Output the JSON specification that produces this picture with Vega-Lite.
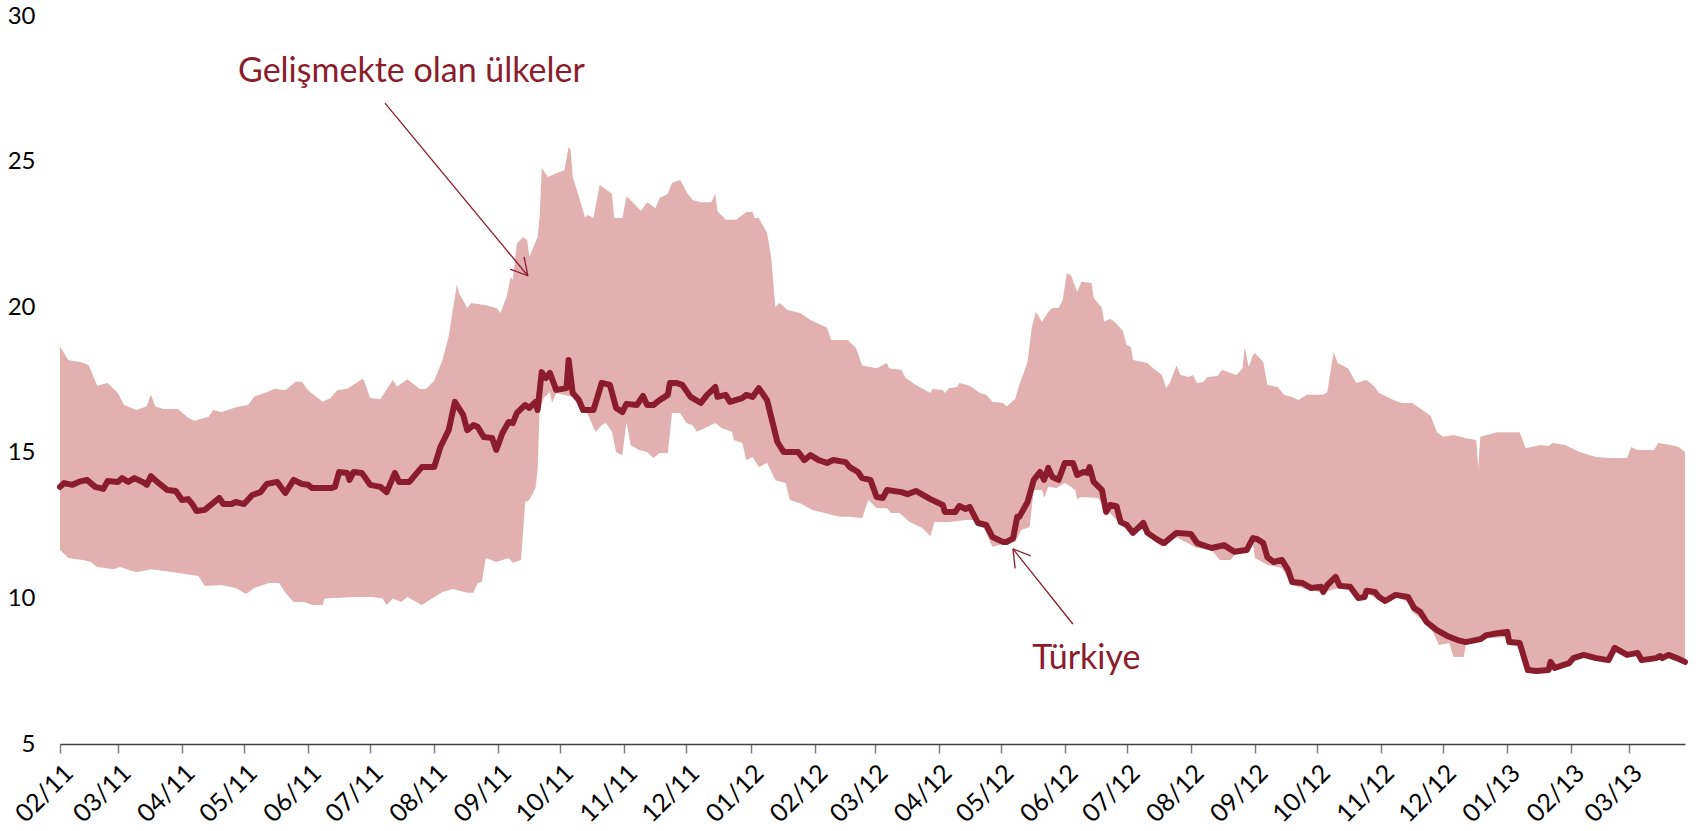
{
  "$schema": "https://vega.github.io/schema/vega-lite/v6.json",
  "autosize": "none",
  "width": 1625,
  "height": 728,
  "padding": {"left": 60, "top": 16, "right": 15, "bottom": 87},
  "background": "white",
  "config": {"view": {"stroke": null}, "font": "Lato"},
  "datasets": {
    "hi": [
      {"d":"2011-02-01","v":18.64},{"d":"2011-02-05","v":18.19},{"d":"2011-02-12","v":18.1},{"d":"2011-02-15","v":18.0},{"d":"2011-02-19","v":17.3},{"d":"2011-02-24","v":17.4},
      {"d":"2011-03-01","v":17.05},{"d":"2011-03-04","v":16.64},{"d":"2011-03-10","v":16.47},{"d":"2011-03-15","v":16.6},{"d":"2011-03-17","v":17.0},{"d":"2011-03-19","v":16.6},{"d":"2011-03-23","v":16.5},{"d":"2011-03-30","v":16.5},
      {"d":"2011-04-04","v":16.2},{"d":"2011-04-07","v":16.1},{"d":"2011-04-14","v":16.24},{"d":"2011-04-16","v":16.47},{"d":"2011-04-20","v":16.4},{"d":"2011-04-28","v":16.58},
      {"d":"2011-05-03","v":16.64},{"d":"2011-05-06","v":16.93},{"d":"2011-05-11","v":17.05},{"d":"2011-05-16","v":17.2},{"d":"2011-05-21","v":17.15},{"d":"2011-05-26","v":17.44},{"d":"2011-05-29","v":17.44},
      {"d":"2011-06-01","v":17.15},{"d":"2011-06-08","v":16.75},{"d":"2011-06-12","v":16.88},{"d":"2011-06-15","v":17.15},{"d":"2011-06-20","v":17.2},{"d":"2011-06-27","v":17.53},{"d":"2011-06-28","v":17.5},
      {"d":"2011-07-01","v":16.88},{"d":"2011-07-06","v":16.85},{"d":"2011-07-12","v":17.5},{"d":"2011-07-14","v":17.27},{"d":"2011-07-19","v":17.53},{"d":"2011-07-25","v":17.19},{"d":"2011-07-28","v":17.19},
      {"d":"2011-08-01","v":17.47},{"d":"2011-08-05","v":18.19},{"d":"2011-08-08","v":19.0},{"d":"2011-08-10","v":19.9},{"d":"2011-08-12","v":20.8},{"d":"2011-08-13","v":20.49},{"d":"2011-08-17","v":19.97},{"d":"2011-08-19","v":20.14},{"d":"2011-08-26","v":20.07},{"d":"2011-08-31","v":19.97},
      {"d":"2011-09-02","v":19.8},{"d":"2011-09-05","v":20.35},{"d":"2011-09-07","v":21.04},{"d":"2011-09-08","v":20.93},{"d":"2011-09-10","v":22.2},{"d":"2011-09-13","v":22.41},{"d":"2011-09-15","v":22.3},{"d":"2011-09-16","v":21.72},{"d":"2011-09-20","v":22.41},{"d":"2011-09-21","v":23.1},{"d":"2011-09-22","v":24.78},{"d":"2011-09-25","v":24.47},{"d":"2011-09-29","v":24.6},
      {"d":"2011-10-03","v":24.7},{"d":"2011-10-05","v":25.5},{"d":"2011-10-06","v":25.4},{"d":"2011-10-07","v":24.47},{"d":"2011-10-10","v":23.8},{"d":"2011-10-13","v":23.06},{"d":"2011-10-14","v":23.17},{"d":"2011-10-17","v":23.06},{"d":"2011-10-19","v":23.8},{"d":"2011-10-20","v":24.2},{"d":"2011-10-26","v":23.9},{"d":"2011-10-27","v":23.06},{"d":"2011-10-31","v":23.06},
      {"d":"2011-11-02","v":23.8},{"d":"2011-11-05","v":23.6},{"d":"2011-11-09","v":23.3},{"d":"2011-11-12","v":23.6},{"d":"2011-11-16","v":23.4},{"d":"2011-11-18","v":23.75},{"d":"2011-11-22","v":23.9},{"d":"2011-11-24","v":24.27},{"d":"2011-11-28","v":24.37},
      {"d":"2011-12-01","v":23.96},{"d":"2011-12-04","v":23.68},{"d":"2011-12-08","v":23.6},{"d":"2011-12-13","v":23.6},{"d":"2011-12-15","v":23.9},{"d":"2011-12-16","v":23.3},{"d":"2011-12-20","v":23.0},{"d":"2011-12-25","v":23.0},{"d":"2011-12-30","v":23.27},
      {"d":"2012-01-02","v":23.27},{"d":"2012-01-03","v":23.06},{"d":"2012-01-05","v":23.06},{"d":"2012-01-09","v":22.55},{"d":"2012-01-11","v":21.72},{"d":"2012-01-13","v":20.0},{"d":"2012-01-15","v":20.14},{"d":"2012-01-19","v":19.9},{"d":"2012-01-25","v":19.8},{"d":"2012-01-30","v":19.56},
      {"d":"2012-02-04","v":19.4},{"d":"2012-02-07","v":19.3},{"d":"2012-02-09","v":18.87},{"d":"2012-02-17","v":18.87},{"d":"2012-02-21","v":18.6},{"d":"2012-02-24","v":18.0},
      {"d":"2012-03-02","v":17.9},{"d":"2012-03-07","v":18.08},{"d":"2012-03-08","v":17.9},{"d":"2012-03-14","v":17.84},{"d":"2012-03-16","v":17.57},{"d":"2012-03-21","v":17.33},{"d":"2012-03-28","v":17.05},{"d":"2012-03-29","v":17.19},
      {"d":"2012-04-03","v":17.16},{"d":"2012-04-04","v":17.05},{"d":"2012-04-06","v":17.22},{"d":"2012-04-10","v":17.26},{"d":"2012-04-11","v":17.4},{"d":"2012-04-16","v":17.3},{"d":"2012-04-21","v":17.05},{"d":"2012-04-24","v":16.99},{"d":"2012-04-27","v":16.75},
      {"d":"2012-05-02","v":16.71},{"d":"2012-05-04","v":16.6},{"d":"2012-05-08","v":16.85},{"d":"2012-05-10","v":17.33},{"d":"2012-05-14","v":18.12},{"d":"2012-05-16","v":19.29},{"d":"2012-05-18","v":19.84},{"d":"2012-05-21","v":19.5},{"d":"2012-05-24","v":19.84},{"d":"2012-05-26","v":19.97},{"d":"2012-05-29","v":19.97},{"d":"2012-05-31","v":20.25},
      {"d":"2012-06-02","v":21.17},{"d":"2012-06-04","v":21.1},{"d":"2012-06-07","v":20.52},{"d":"2012-06-09","v":20.87},{"d":"2012-06-14","v":20.83},{"d":"2012-06-15","v":20.32},{"d":"2012-06-19","v":19.97},{"d":"2012-06-20","v":19.5},{"d":"2012-06-23","v":19.6},{"d":"2012-06-25","v":19.5},{"d":"2012-06-29","v":19.2},
      {"d":"2012-07-01","v":18.7},{"d":"2012-07-03","v":18.63},{"d":"2012-07-04","v":18.19},{"d":"2012-07-11","v":18.08},{"d":"2012-07-13","v":17.95},{"d":"2012-07-18","v":17.67},{"d":"2012-07-20","v":17.22},{"d":"2012-07-22","v":17.43},{"d":"2012-07-25","v":18.0},{"d":"2012-07-27","v":17.67},{"d":"2012-07-31","v":17.6},
      {"d":"2012-08-02","v":17.67},{"d":"2012-08-04","v":17.4},{"d":"2012-08-07","v":17.43},{"d":"2012-08-09","v":17.6},{"d":"2012-08-14","v":17.64},{"d":"2012-08-16","v":17.84},{"d":"2012-08-23","v":17.67},{"d":"2012-08-26","v":17.9},{"d":"2012-08-27","v":18.63},{"d":"2012-08-29","v":17.95},{"d":"2012-08-31","v":18.36},
      {"d":"2012-09-01","v":18.43},{"d":"2012-09-05","v":18.12},{"d":"2012-09-07","v":17.33},{"d":"2012-09-12","v":17.26},{"d":"2012-09-15","v":16.99},{"d":"2012-09-19","v":16.92},{"d":"2012-09-22","v":16.81},{"d":"2012-09-26","v":16.99},{"d":"2012-09-29","v":16.99},
      {"d":"2012-10-04","v":16.99},{"d":"2012-10-06","v":17.09},{"d":"2012-10-09","v":18.46},{"d":"2012-10-11","v":18.08},{"d":"2012-10-16","v":17.9},{"d":"2012-10-20","v":17.4},{"d":"2012-10-25","v":17.5},{"d":"2012-10-29","v":17.26},{"d":"2012-10-31","v":17.05},
      {"d":"2012-11-07","v":16.81},{"d":"2012-11-11","v":16.71},{"d":"2012-11-16","v":16.71},{"d":"2012-11-21","v":16.47},{"d":"2012-11-25","v":16.26},{"d":"2012-11-28","v":15.71},
      {"d":"2012-12-01","v":15.55},{"d":"2012-12-06","v":15.61},{"d":"2012-12-12","v":15.5},{"d":"2012-12-17","v":15.44},{"d":"2012-12-18","v":14.48},{"d":"2012-12-19","v":15.55},{"d":"2012-12-27","v":15.71},
      {"d":"2013-01-07","v":15.71},{"d":"2013-01-10","v":15.16},{"d":"2013-01-17","v":15.27},{"d":"2013-01-21","v":15.23},{"d":"2013-01-23","v":15.34},{"d":"2013-01-29","v":15.27},
      {"d":"2013-02-05","v":15.03},{"d":"2013-02-13","v":14.86},{"d":"2013-02-19","v":14.82},{"d":"2013-02-28","v":14.82},
      {"d":"2013-03-02","v":15.2},{"d":"2013-03-05","v":15.1},{"d":"2013-03-13","v":15.1},{"d":"2013-03-15","v":15.34},{"d":"2013-03-21","v":15.27},{"d":"2013-03-25","v":15.2},{"d":"2013-03-28","v":15.03}
    ],
    "lo": [
      {"d":"2011-02-01","v":11.66},{"d":"2011-02-05","v":11.39},{"d":"2011-02-12","v":11.32},{"d":"2011-02-16","v":11.25},{"d":"2011-02-19","v":11.08},{"d":"2011-02-27","v":11.0},
      {"d":"2011-03-02","v":11.08},{"d":"2011-03-10","v":10.9},{"d":"2011-03-17","v":11.0},{"d":"2011-03-28","v":10.9},
      {"d":"2011-04-09","v":10.77},{"d":"2011-04-12","v":10.43},{"d":"2011-04-20","v":10.46},{"d":"2011-04-27","v":10.36},
      {"d":"2011-05-02","v":10.15},{"d":"2011-05-06","v":10.36},{"d":"2011-05-13","v":10.53},{"d":"2011-05-18","v":10.53},{"d":"2011-05-21","v":10.19},{"d":"2011-05-25","v":9.88},{"d":"2011-05-30","v":9.88},
      {"d":"2011-06-03","v":9.77},{"d":"2011-06-08","v":9.77},{"d":"2011-06-09","v":10.0},{"d":"2011-06-24","v":10.05},
      {"d":"2011-07-02","v":10.05},{"d":"2011-07-07","v":10.0},{"d":"2011-07-09","v":9.77},{"d":"2011-07-12","v":10.0},{"d":"2011-07-16","v":9.88},{"d":"2011-07-19","v":10.05},{"d":"2011-07-26","v":9.77},{"d":"2011-07-30","v":9.95},
      {"d":"2011-08-05","v":10.22},{"d":"2011-08-10","v":10.32},{"d":"2011-08-17","v":10.19},{"d":"2011-08-20","v":10.19},{"d":"2011-08-22","v":10.53},{"d":"2011-08-24","v":10.56},{"d":"2011-08-26","v":11.39},{"d":"2011-08-31","v":11.25},
      {"d":"2011-09-06","v":11.39},{"d":"2011-09-08","v":11.22},{"d":"2011-09-12","v":11.32},{"d":"2011-09-14","v":13.31},{"d":"2011-09-16","v":13.38},{"d":"2011-09-19","v":13.79},{"d":"2011-09-20","v":14.41},{"d":"2011-09-21","v":16.47},{"d":"2011-09-23","v":16.88},{"d":"2011-09-26","v":17.09},{"d":"2011-09-27","v":16.71},{"d":"2011-09-29","v":17.05},
      {"d":"2011-10-07","v":16.92},{"d":"2011-10-10","v":16.57},{"d":"2011-10-14","v":16.37},{"d":"2011-10-18","v":15.72},{"d":"2011-10-21","v":15.95},{"d":"2011-10-23","v":16.02},{"d":"2011-10-26","v":15.72},{"d":"2011-10-28","v":15.03},{"d":"2011-10-31","v":14.92},
      {"d":"2011-11-02","v":16.06},{"d":"2011-11-04","v":15.27},{"d":"2011-11-08","v":15.1},{"d":"2011-11-12","v":15.03},{"d":"2011-11-15","v":14.82},{"d":"2011-11-18","v":14.99},{"d":"2011-11-22","v":14.99},{"d":"2011-11-24","v":16.37},{"d":"2011-11-28","v":16.37},
      {"d":"2011-12-01","v":16.02},{"d":"2011-12-04","v":15.95},{"d":"2011-12-06","v":15.72},{"d":"2011-12-10","v":15.85},{"d":"2011-12-15","v":16.02},{"d":"2011-12-18","v":15.85},{"d":"2011-12-23","v":15.72},{"d":"2011-12-24","v":15.44},{"d":"2011-12-28","v":15.34},{"d":"2011-12-30","v":14.75},
      {"d":"2012-01-02","v":14.86},{"d":"2012-01-05","v":14.51},{"d":"2012-01-09","v":14.65},{"d":"2012-01-13","v":14.06},{"d":"2012-01-18","v":13.96},{"d":"2012-01-20","v":13.38},{"d":"2012-01-25","v":13.27},{"d":"2012-01-31","v":13.04},
      {"d":"2012-02-06","v":12.93},{"d":"2012-02-13","v":12.8},{"d":"2012-02-18","v":12.8},{"d":"2012-02-24","v":12.76},{"d":"2012-02-27","v":13.38},
      {"d":"2012-03-02","v":13.1},{"d":"2012-03-07","v":13.1},{"d":"2012-03-09","v":12.93},{"d":"2012-03-13","v":12.93},{"d":"2012-03-18","v":12.62},{"d":"2012-03-24","v":12.42},{"d":"2012-03-28","v":12.14},{"d":"2012-03-30","v":12.62},
      {"d":"2012-04-06","v":12.62},{"d":"2012-04-10","v":12.66},{"d":"2012-04-14","v":12.69},{"d":"2012-04-18","v":12.69},{"d":"2012-04-23","v":12.4},{"d":"2012-04-27","v":11.77},
      {"d":"2012-05-04","v":11.9},{"d":"2012-05-08","v":11.94},{"d":"2012-05-11","v":12.35},{"d":"2012-05-15","v":12.45},{"d":"2012-05-17","v":13.72},{"d":"2012-05-21","v":13.72},{"d":"2012-05-22","v":13.45},{"d":"2012-05-24","v":13.83},{"d":"2012-05-28","v":13.79},
      {"d":"2012-06-01","v":13.96},{"d":"2012-06-04","v":13.83},{"d":"2012-06-06","v":13.72},{"d":"2012-06-07","v":13.41},{"d":"2012-06-09","v":13.48},{"d":"2012-06-17","v":13.45},{"d":"2012-06-19","v":13.27},{"d":"2012-06-22","v":13.0},{"d":"2012-06-28","v":12.55},
      {"d":"2012-07-04","v":12.2},{"d":"2012-07-09","v":12.4},{"d":"2012-07-11","v":12.15},{"d":"2012-07-18","v":11.77},{"d":"2012-07-25","v":12.1},
      {"d":"2012-08-04","v":11.73},{"d":"2012-08-11","v":11.66},{"d":"2012-08-15","v":11.32},{"d":"2012-08-20","v":11.32},{"d":"2012-08-23","v":11.55},{"d":"2012-08-28","v":11.6},{"d":"2012-08-31","v":11.9},
      {"d":"2012-09-01","v":11.39},{"d":"2012-09-07","v":11.15},{"d":"2012-09-14","v":11.04},{"d":"2012-09-19","v":10.46},{"d":"2012-09-27","v":10.29},
      {"d":"2012-10-04","v":10.19},{"d":"2012-10-11","v":10.36},{"d":"2012-10-17","v":10.29},{"d":"2012-10-21","v":9.95},{"d":"2012-10-25","v":10.19},
      {"d":"2012-11-02","v":9.84},{"d":"2012-11-09","v":10.05},{"d":"2012-11-14","v":9.88},{"d":"2012-11-16","v":9.53},{"d":"2012-11-21","v":9.26},{"d":"2012-11-26","v":8.85},{"d":"2012-11-29","v":8.4},
      {"d":"2012-12-04","v":8.47},{"d":"2012-12-06","v":7.99},{"d":"2012-12-11","v":7.99},{"d":"2012-12-12","v":8.4},{"d":"2012-12-15","v":8.47},{"d":"2012-12-23","v":8.64},
      {"d":"2013-01-01","v":8.67},{"d":"2013-01-05","v":8.47},{"d":"2013-01-08","v":8.33},{"d":"2013-01-10","v":7.44},{"d":"2013-01-15","v":7.45},{"d":"2013-01-21","v":7.48},{"d":"2013-01-22","v":7.75},{"d":"2013-01-24","v":7.55},{"d":"2013-01-28","v":7.65},
      {"d":"2013-02-02","v":7.88},{"d":"2013-02-08","v":8.0},{"d":"2013-02-13","v":7.88},{"d":"2013-02-19","v":7.82},{"d":"2013-02-22","v":8.2},{"d":"2013-02-28","v":8.0},
      {"d":"2013-03-04","v":8.07},{"d":"2013-03-07","v":7.82},{"d":"2013-03-14","v":7.88},{"d":"2013-03-19","v":8.0},{"d":"2013-03-24","v":7.88},{"d":"2013-03-28","v":7.75}
    ],
    "tr": [
      {"d":"2011-02-01","v":13.83},{"d":"2011-02-03","v":13.96},{"d":"2011-02-07","v":13.9},{"d":"2011-02-10","v":14.0},{"d":"2011-02-14","v":14.07},{"d":"2011-02-18","v":13.83},{"d":"2011-02-22","v":13.76},{"d":"2011-02-24","v":14.03},
      {"d":"2011-03-01","v":14.0},{"d":"2011-03-03","v":14.13},{"d":"2011-03-06","v":14.0},{"d":"2011-03-09","v":14.13},{"d":"2011-03-13","v":14.0},{"d":"2011-03-15","v":13.9},{"d":"2011-03-17","v":14.2},{"d":"2011-03-20","v":14.0},{"d":"2011-03-25","v":13.72},{"d":"2011-03-29","v":13.69},
      {"d":"2011-04-01","v":13.38},{"d":"2011-04-04","v":13.41},{"d":"2011-04-06","v":13.24},{"d":"2011-04-08","v":13.0},{"d":"2011-04-12","v":13.04},{"d":"2011-04-16","v":13.27},{"d":"2011-04-19","v":13.45},{"d":"2011-04-21","v":13.24},{"d":"2011-04-25","v":13.24},{"d":"2011-04-27","v":13.31},
      {"d":"2011-05-01","v":13.24},{"d":"2011-05-05","v":13.55},{"d":"2011-05-09","v":13.65},{"d":"2011-05-12","v":13.93},{"d":"2011-05-17","v":14.0},{"d":"2011-05-21","v":13.62},{"d":"2011-05-25","v":14.07},{"d":"2011-05-29","v":13.93},
      {"d":"2011-06-01","v":13.9},{"d":"2011-06-03","v":13.79},{"d":"2011-06-12","v":13.79},{"d":"2011-06-14","v":13.83},{"d":"2011-06-16","v":14.34},{"d":"2011-06-20","v":14.31},{"d":"2011-06-21","v":14.07},{"d":"2011-06-23","v":14.34},{"d":"2011-06-27","v":14.31},
      {"d":"2011-07-01","v":13.9},{"d":"2011-07-06","v":13.83},{"d":"2011-07-09","v":13.65},{"d":"2011-07-13","v":14.31},{"d":"2011-07-15","v":14.0},{"d":"2011-07-20","v":14.0},{"d":"2011-07-26","v":14.51},
      {"d":"2011-08-01","v":14.51},{"d":"2011-08-04","v":15.2},{"d":"2011-08-08","v":15.78},{"d":"2011-08-11","v":16.75},{"d":"2011-08-15","v":16.3},{"d":"2011-08-17","v":15.78},{"d":"2011-08-20","v":15.95},{"d":"2011-08-22","v":15.89},{"d":"2011-08-25","v":15.54},{"d":"2011-08-29","v":15.51},{"d":"2011-08-31","v":15.1},
      {"d":"2011-09-03","v":15.68},{"d":"2011-09-06","v":16.06},{"d":"2011-09-08","v":16.02},{"d":"2011-09-10","v":16.37},{"d":"2011-09-14","v":16.64},{"d":"2011-09-16","v":16.54},{"d":"2011-09-19","v":16.75},{"d":"2011-09-20","v":16.47},{"d":"2011-09-22","v":17.77},{"d":"2011-09-24","v":17.57},{"d":"2011-09-26","v":17.74},{"d":"2011-09-29","v":17.16},
      {"d":"2011-10-04","v":17.22},{"d":"2011-10-05","v":18.19},{"d":"2011-10-07","v":17.05},{"d":"2011-10-10","v":16.81},{"d":"2011-10-12","v":16.47},{"d":"2011-10-17","v":16.47},{"d":"2011-10-19","v":16.92},{"d":"2011-10-21","v":17.4},{"d":"2011-10-25","v":17.33},{"d":"2011-10-28","v":16.54},{"d":"2011-10-31","v":16.4},
      {"d":"2011-11-02","v":16.68},{"d":"2011-11-07","v":16.64},{"d":"2011-11-10","v":16.95},{"d":"2011-11-12","v":16.64},{"d":"2011-11-15","v":16.64},{"d":"2011-11-18","v":16.81},{"d":"2011-11-22","v":16.99},{"d":"2011-11-23","v":17.4},{"d":"2011-11-26","v":17.4},{"d":"2011-11-29","v":17.33},
      {"d":"2011-12-03","v":16.92},{"d":"2011-12-08","v":16.71},{"d":"2011-12-11","v":16.99},{"d":"2011-12-15","v":17.26},{"d":"2011-12-16","v":16.92},{"d":"2011-12-20","v":16.99},{"d":"2011-12-22","v":16.75},{"d":"2011-12-28","v":16.88},{"d":"2011-12-30","v":16.99},
      {"d":"2012-01-02","v":16.92},{"d":"2012-01-05","v":17.22},{"d":"2012-01-09","v":16.81},{"d":"2012-01-11","v":16.23},{"d":"2012-01-14","v":15.37},{"d":"2012-01-17","v":15.03},{"d":"2012-01-24","v":15.03},{"d":"2012-01-27","v":14.75},{"d":"2012-01-30","v":14.92},
      {"d":"2012-02-03","v":14.75},{"d":"2012-02-07","v":14.65},{"d":"2012-02-10","v":14.75},{"d":"2012-02-16","v":14.68},{"d":"2012-02-18","v":14.51},{"d":"2012-02-22","v":14.34},{"d":"2012-02-24","v":14.13},{"d":"2012-02-28","v":14.07},
      {"d":"2012-03-02","v":13.48},{"d":"2012-03-05","v":13.45},{"d":"2012-03-07","v":13.72},{"d":"2012-03-14","v":13.65},{"d":"2012-03-17","v":13.58},{"d":"2012-03-21","v":13.69},{"d":"2012-03-28","v":13.41},
      {"d":"2012-04-03","v":13.21},{"d":"2012-04-04","v":12.97},{"d":"2012-04-09","v":12.97},{"d":"2012-04-11","v":13.17},{"d":"2012-04-14","v":13.07},{"d":"2012-04-16","v":13.14},{"d":"2012-04-20","v":12.59},{"d":"2012-04-24","v":12.52},{"d":"2012-04-27","v":12.11},
      {"d":"2012-05-02","v":11.94},{"d":"2012-05-04","v":11.94},{"d":"2012-05-07","v":12.07},{"d":"2012-05-09","v":12.8},{"d":"2012-05-10","v":12.8},{"d":"2012-05-14","v":13.31},{"d":"2012-05-17","v":14.07},{"d":"2012-05-20","v":14.34},{"d":"2012-05-22","v":14.07},{"d":"2012-05-24","v":14.48},{"d":"2012-05-26","v":14.17},{"d":"2012-05-29","v":14.07},
      {"d":"2012-06-01","v":14.65},{"d":"2012-06-05","v":14.65},{"d":"2012-06-07","v":14.24},{"d":"2012-06-10","v":14.34},{"d":"2012-06-12","v":14.31},{"d":"2012-06-13","v":14.51},{"d":"2012-06-15","v":14.0},{"d":"2012-06-19","v":13.72},{"d":"2012-06-21","v":12.97},{"d":"2012-06-23","v":13.21},{"d":"2012-06-26","v":13.17},{"d":"2012-06-28","v":12.62},
      {"d":"2012-07-01","v":12.52},{"d":"2012-07-04","v":12.25},{"d":"2012-07-08","v":12.52},{"d":"2012-07-09","v":12.59},{"d":"2012-07-11","v":12.25},{"d":"2012-07-16","v":12.01},{"d":"2012-07-19","v":11.9},{"d":"2012-07-25","v":12.25},
      {"d":"2012-08-01","v":12.21},{"d":"2012-08-04","v":11.9},{"d":"2012-08-11","v":11.73},{"d":"2012-08-17","v":11.83},{"d":"2012-08-22","v":11.6},{"d":"2012-08-28","v":11.66},{"d":"2012-08-31","v":12.07},
      {"d":"2012-09-02","v":12.04},{"d":"2012-09-05","v":11.9},{"d":"2012-09-07","v":11.42},{"d":"2012-09-10","v":11.25},{"d":"2012-09-14","v":11.32},{"d":"2012-09-17","v":10.98},{"d":"2012-09-19","v":10.56},{"d":"2012-09-24","v":10.53},{"d":"2012-09-28","v":10.36},
      {"d":"2012-10-03","v":10.4},{"d":"2012-10-04","v":10.22},{"d":"2012-10-06","v":10.46},{"d":"2012-10-10","v":10.74},{"d":"2012-10-12","v":10.43},{"d":"2012-10-17","v":10.4},{"d":"2012-10-21","v":10.01},{"d":"2012-10-24","v":10.05},{"d":"2012-10-25","v":10.26},{"d":"2012-10-29","v":10.22},{"d":"2012-10-31","v":10.05},
      {"d":"2012-11-03","v":9.91},{"d":"2012-11-08","v":10.12},{"d":"2012-11-14","v":10.05},{"d":"2012-11-17","v":9.67},{"d":"2012-11-20","v":9.53},{"d":"2012-11-23","v":9.19},{"d":"2012-11-28","v":8.91},
      {"d":"2012-12-03","v":8.71},{"d":"2012-12-08","v":8.57},{"d":"2012-12-12","v":8.5},{"d":"2012-12-19","v":8.6},{"d":"2012-12-22","v":8.74},{"d":"2012-12-28","v":8.81},
      {"d":"2013-01-01","v":8.85},{"d":"2013-01-02","v":8.5},{"d":"2013-01-07","v":8.47},{"d":"2013-01-11","v":7.54},{"d":"2013-01-15","v":7.51},{"d":"2013-01-21","v":7.54},{"d":"2013-01-22","v":7.82},{"d":"2013-01-24","v":7.61},{"d":"2013-01-28","v":7.71},{"d":"2013-01-31","v":7.78},
      {"d":"2013-02-02","v":7.95},{"d":"2013-02-07","v":8.06},{"d":"2013-02-13","v":7.95},{"d":"2013-02-19","v":7.88},{"d":"2013-02-22","v":8.3},{"d":"2013-02-28","v":8.06},
      {"d":"2013-03-05","v":8.13},{"d":"2013-03-07","v":7.88},{"d":"2013-03-14","v":7.95},{"d":"2013-03-16","v":8.02},{"d":"2013-03-17","v":7.95},{"d":"2013-03-20","v":8.06},{"d":"2013-03-24","v":7.95},{"d":"2013-03-28","v":7.82}
    ],
    "arrows": [
      {"d":"2011-07-08T05:00Z","v":27.01,"d2":"2011-09-15T07:00Z","v2":21.08},
      {"d":"2011-09-06T17:00Z","v":21.31,"d2":"2011-09-15T07:00Z","v2":21.08},
      {"d":"2011-09-13T12:00Z","v":21.73,"d2":"2011-09-15T07:00Z","v2":21.08},
      {"d":"2012-06-04T22:00Z","v":9.12,"d2":"2012-05-06T22:00Z","v2":11.70},
      {"d":"2012-05-08T00:00Z","v":11.03,"d2":"2012-05-06T22:00Z","v2":11.70},
      {"d":"2012-05-15T14:00Z","v":11.46,"d2":"2012-05-06T22:00Z","v2":11.70}
    ],
    "labels": [
      {"d":"2011-07-21","v":27.73,"t":"Gelişmekte olan ülkeler"},
      {"d":"2012-06-11T10:00Z","v":7.58,"t":"Türkiye"}
    ]
  },
  "encoding": {
    "x": {
      "field": "d", "type": "temporal",
      "scale": {"type": "utc", "domain": [{"year": 2011, "month": 2, "date": 1, "utc": true}, {"year": 2013, "month": 3, "date": 28, "utc": true}]},
      "axis": {
        "title": null, "format": "%m/%y", "tickCount": {"interval": "month", "step": 1},
        "labelAngle": -45, "labelFontSize": 25, "labelFont": "Lato", "labelColor": "#000000",
        "labelPadding": 7, "labelOffset": 0, "labelOverlap": false, "labelFlush": false, "labelBound": false,
        "ticks": true, "tickSize": 9, "tickColor": "#7f7f7f", "tickWidth": 1.5,
        "domain": true, "domainColor": "#404040", "domainWidth": 1.5, "grid": false, "zindex": 1
      }
    },
    "y": {
      "field": "v", "type": "quantitative",
      "scale": {"domain": [5, 30], "nice": false, "zero": false},
      "axis": {
        "title": null, "values": [5, 10, 15, 20, 25, 30], "ticks": false, "domain": false, "grid": false,
        "labelFontSize": 24, "labelFont": "Lato", "labelColor": "#000000", "labelPadding": 25
      }
    }
  },
  "layer": [
    {"data": {"name": "hi"}, "mark": {"type": "area", "color": "#e3b0b0", "interpolate": "linear"}, "encoding": {"y2": {"datum": 5}}},
    {"data": {"name": "lo"}, "mark": {"type": "area", "color": "#ffffff", "interpolate": "linear"}, "encoding": {"y2": {"datum": 5}}},
    {"data": {"name": "tr"}, "mark": {"type": "line", "color": "#8a1c2c", "strokeWidth": 6, "strokeJoin": "round", "strokeCap": "round"}, "encoding": {}},
    {"data": {"name": "arrows"}, "mark": {"type": "rule", "color": "#8a1c2c", "strokeWidth": 1.3}, "encoding": {"x2": {"field": "d2"}, "y2": {"field": "v2"}}},
    {"data": {"name": "labels"}, "mark": {"type": "text", "color": "#8a1c2c", "font": "Lato", "fontSize": 34, "align": "center", "baseline": "alphabetic"}, "encoding": {"text": {"field": "t"}}}
  ]
}
